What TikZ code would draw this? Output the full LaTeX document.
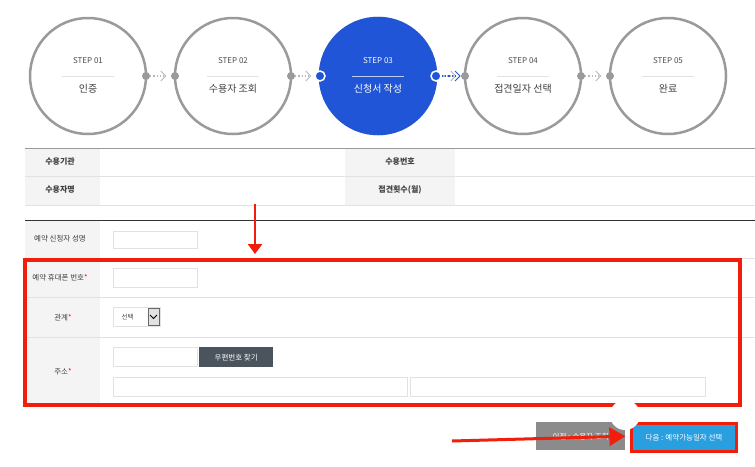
\documentclass[tikz,border=0pt]{standalone}
\usepackage{fontspec}
\setmainfont{Noto Sans CJK KR}
\usetikzlibrary{arrows.meta}
\definecolor{cgray}{HTML}{9A9A9A}
\definecolor{cblue}{HTML}{1F55D6}
\definecolor{lbl}{HTML}{F4F4F4}
\definecolor{sep}{HTML}{E2E2E2}
\definecolor{rred}{HTML}{F01E0A}
\definecolor{btnd}{HTML}{4B545C}
\definecolor{btnb}{HTML}{2A9FE0}
\tikzset{
 stepc/.style={circle,draw=cgray,line width=2.5pt,minimum size=116pt,fill=white},
 dotc/.style={circle,fill=cgray,minimum size=8pt,inner sep=0},
 lab/.style={font=\fontsize{7.5}{9}\selectfont,text=black!75},
 inbox/.style={draw=sep,fill=white,inner sep=0,anchor=north west},
 flow/.style={cgray,line width=1.2pt,dotted},
}
\begin{document}
\begin{tikzpicture}[x=1pt,y=-1pt]
\useasboundingbox[fill=white] (0,0) rectangle (755,466);
% steps
\foreach \i/\x/\t in {1/88/인증,2/233/수용자 조회,3/378/신청서 작성,4/523/접견일자 선택,5/668/완료}{
 \node[stepc] (s\i) at (\x,76) {};
 \coordinate (sl\i) at (\x-58,76);
 \coordinate (sr\i) at (\x+58,76);
}
\node[stepc,draw=cblue,fill=cblue] at (s3) {};
\foreach \i/\x/\t in {1/88/인증,2/233/수용자 조회,4/523/접견일자 선택,5/668/완료}{
 \node[font=\fontsize{8}{9}\selectfont,text=black!70] at (\x,61) {STEP 0\i};
 \draw[sep] (\x-26,76) -- (\x+26,76);
 \node[font=\fontsize{10}{11}\selectfont,text=black!75] at (\x,89) {\t};
}
\node[font=\fontsize{8}{9}\selectfont,text=white] at (378,61) {STEP 03};
\draw[white!70!cblue] (352,76) -- (404,76);
\node[font=\fontsize{10}{11}\selectfont,text=white] at (378,89) {신청서 작성};
\foreach \a/\b in {1/2,2/3,3/4,4/5}{
 \node[dotc] (d\a) at (sr\a) {};
 \node[dotc] (e\b) at (sl\b) {};
 \draw[flow,cgray!70] (d\a) -- ([xshift=-6pt]e\b.west);
 \draw[cgray!70,line width=0.9pt] ([xshift=-10pt,yshift=-5pt]e\b.west) -- ([xshift=-5pt]e\b.west) -- ([xshift=-10pt,yshift=5pt]e\b.west);
}
\node[circle,draw=white,fill=cblue,line width=1.5pt,minimum size=10pt,inner sep=0] at (sl3) {};
\node[circle,draw=white,fill=cblue,line width=1.5pt,minimum size=10pt,inner sep=0] at (sr3) {};
\draw[cblue,dotted,line width=1.2pt] (442,76) -- (456,76);
\draw[cblue,line width=0.9pt] (455,71) -- (460,76) -- (455,81);
% info table
\fill[lbl] (25,148) rectangle (100,205);
\fill[lbl] (345,148) rectangle (455,205);
\draw[cgray,line width=0.8pt] (25,148) -- (755,148);
\draw[sep] (25,176) -- (755,176);
\draw[sep] (25,205) -- (755,205);
\node[lab,font=\bfseries\fontsize{8}{9}\selectfont] (t1) at (60,162) {수용기관};
\node[lab,font=\bfseries\fontsize{8}{9}\selectfont] (t2) at (60,190) {수용자명};
\node[lab,font=\bfseries\fontsize{8}{9}\selectfont] (t3) at (400,162) {수용번호};
\node[lab,font=\bfseries\fontsize{8}{9}\selectfont] (t4) at (400,190) {접견횟수(월)};
% form
\fill[lbl] (25,220) rectangle (100,405);
\draw[black!80,line width=0.8pt] (25,220) -- (755,220);
\foreach \y in {258,297,337}{\draw[sep] (25,\y) -- (755,\y);}
\node[lab] at (60,239) {예약 신청자 성명};
\node[lab] at (60,278) {예약 휴대폰 번호\textcolor{rred}{*}};
\node[lab] at (63,318) {관계\textcolor{rred}{*}};
\node[lab] at (63,372) {주소\textcolor{rred}{*}};
\node[inbox,minimum width=84pt,minimum height=17pt] at (113,231) {};
\node[inbox,minimum width=84pt,minimum height=19pt] at (113,268) {};
\node[inbox,minimum width=47pt,minimum height=19pt,font=\fontsize{6.5}{7}\selectfont,text=black!70] (sel) at (113,307) {\hspace{-18pt}선택};
\node[draw=black!60,fill=sep,minimum width=11pt,minimum height=17pt,inner sep=0] at (153.5,316.5) {};
\draw[black,line width=1pt] (150,315) -- (153.5,318.5) -- (157,315);
\node[inbox,minimum width=84pt,minimum height=19pt] at (113,347) {};
\node[fill=btnd,text=white,minimum width=74pt,minimum height=20pt,inner sep=0,anchor=north west,font=\fontsize{7.5}{9}\selectfont] (zip) at (199,347) {우편번호 찾기};
\node[inbox,minimum width=294pt,minimum height=19pt] at (113,377) {};
\node[inbox,minimum width=295pt,minimum height=19pt] at (410,377) {};
% red highlight
\draw[rred,line width=3.5pt] (25,260) rectangle (740,405);
\coordinate (a1) at (255,204);
\coordinate (a2) at (255,254);
\draw[rred,line width=2.5pt,-{Triangle[length=10pt,width=14pt]}] (a1) -- (a2);
% buttons
\node[fill=cgray!90!black,text=white,minimum width=89pt,minimum height=28pt,inner sep=0,anchor=north west,font=\fontsize{7.5}{9}\selectfont] (prev) at (536,422) {이전 : 수용자 조회};
\node[fill=btnb,text=white,minimum width=105pt,minimum height=28pt,inner sep=0,anchor=north west,font=\fontsize{7.5}{9}\selectfont,draw=rred,line width=3pt] (next) at (630,422) {다음 : 예약가능일자 선택};
\fill[white] (625,415) circle (15);
\coordinate (b1) at (452,441);
\draw[rred,line width=3pt,-{Triangle[length=16pt,width=18pt]}] (b1) -- (prev.east);
\end{tikzpicture}
\end{document}
